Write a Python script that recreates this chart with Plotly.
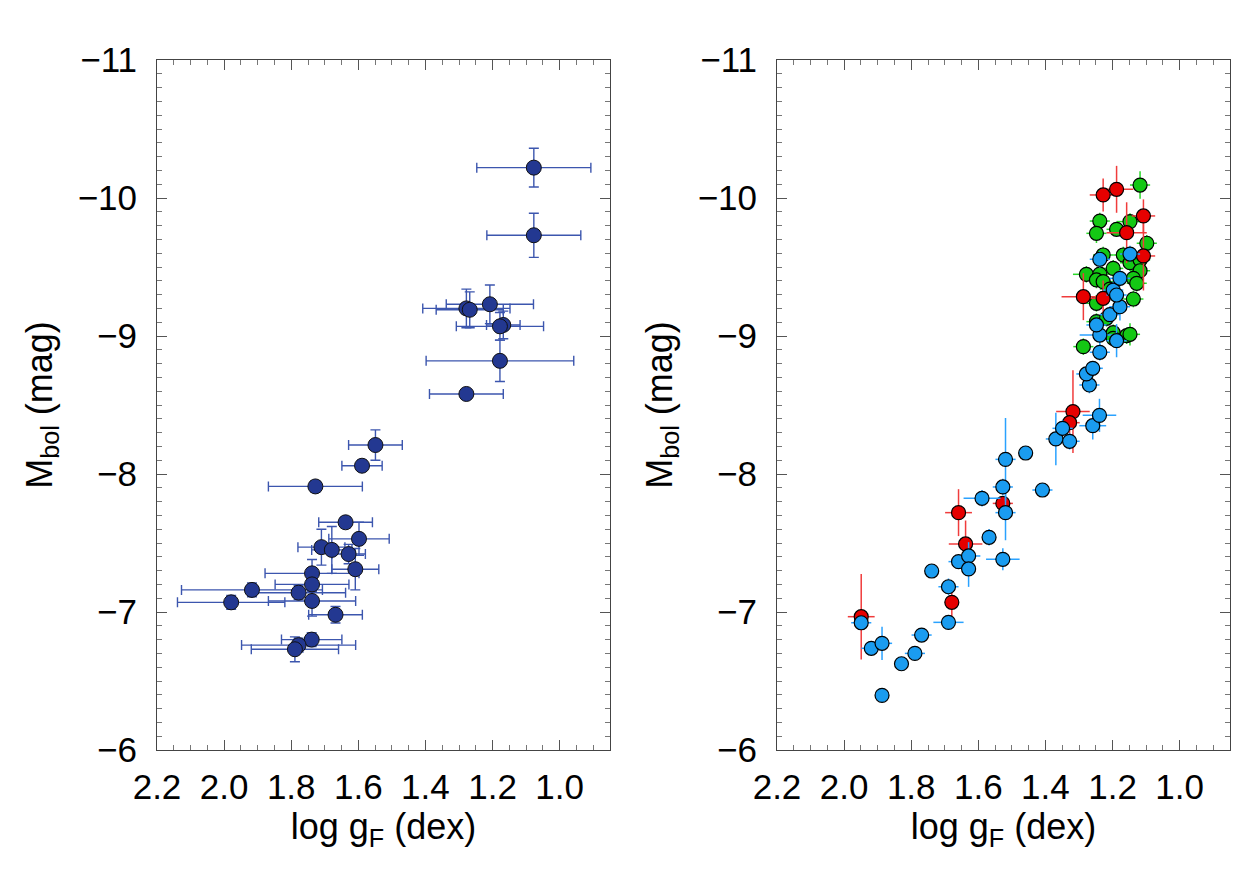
import plotly.graph_objects as go

# ---------------- Left panel data ----------------
left_logg = [1.077, 1.077, 1.278, 1.268, 1.208, 1.168, 1.178, 1.178, 1.278,
             1.549, 1.589, 1.728, 1.638, 1.598, 1.710, 1.679, 1.629, 1.609,
             1.738, 1.738, 1.917, 1.778, 1.979, 1.738, 1.668, 1.739, 1.778, 1.789]
left_mbol = [-10.22, -9.73, -9.20, -9.19, -9.23, -9.08, -9.07, -8.82, -8.58,
             -8.21, -8.06, -7.91, -7.65, -7.53, -7.47, -7.45, -7.42, -7.31,
             -7.28, -7.20, -7.16, -7.14, -7.07, -7.08, -6.98, -6.80, -6.76, -6.73]
left_logg_err = [0.17, 0.14, 0.13, 0.10, 0.13, 0.05, 0.13, 0.22, 0.11,
                 0.08, 0.06, 0.14, 0.08, 0.09, 0.07, 0.06, 0.05, 0.07,
                 0.14, 0.11, 0.21, 0.14, 0.16, 0.13, 0.08, 0.09, 0.17, 0.13]
left_mbol_err = [0.14, 0.16, 0.14, 0.13, 0.14, 0.10, 0.10, 0.15, 0.03,
                 0.11, 0.04, 0.04, 0.04, 0.12, 0.13, 0.17, 0.07, 0.15,
                 0.10, 0.05, 0.05, 0.05, 0.05, 0.11, 0.06, 0.05, 0.05, 0.09]

# ---------------- Right panel data ----------------
green_logg = [1.118, 1.238, 1.248, 1.188, 1.148, 1.098, 1.228, 1.168, 1.148, 1.118,
              1.198, 1.118, 1.278, 1.238, 1.248, 1.228, 1.138, 1.128, 1.138, 1.248,
              1.248, 1.218, 1.198, 1.198, 1.158, 1.148, 1.287, 1.208]
green_mbol = [-10.094, -9.833, -9.744, -9.773, -9.829, -9.672, -9.587, -9.587, -9.531, -9.551,
              -9.490, -9.473, -9.447, -9.449, -9.406, -9.394, -9.418, -9.382, -9.268, -9.237,
              -9.104, -9.128, -9.024, -8.983, -9.002, -9.012, -8.923, -9.340]
green_logg_err = [0.03, 0.03, 0.03, 0.03, 0.04, 0.03, 0.03, 0.03, 0.03, 0.03,
                  0.03, 0.03, 0.04, 0.03, 0.03, 0.03, 0.03, 0.03, 0.03, 0.03,
                  0.03, 0.03, 0.03, 0.03, 0.03, 0.03, 0.03, 0.03]
green_mbol_err = [0.10, 0.06, 0.07, 0.05, 0.06, 0.06, 0.06, 0.06, 0.06, 0.06,
                  0.06, 0.06, 0.06, 0.06, 0.06, 0.06, 0.06, 0.06, 0.06, 0.06,
                  0.06, 0.06, 0.06, 0.06, 0.06, 0.08, 0.06, 0.06]

red_logg = [1.228, 1.188, 1.108, 1.158, 1.108, 1.287, 1.228, 1.318, 1.328,
            1.659, 1.638, 1.527, 1.679, 1.949]
red_mbol = [-10.022, -10.063, -9.870, -9.749, -9.580, -9.285, -9.273, -8.452, -8.372,
            -7.720, -7.493, -7.787, -7.070, -6.966]
red_logg_err = [0.04, 0.05, 0.035, 0.06, 0.035, 0.065, 0.04, 0.05, 0.03,
                0.04, 0.05, 0.03, 0.02, 0.04]
red_mbol_err = [0.12, 0.17, 0.12, 0.22, 0.25, 0.17, 0.13, 0.30, 0.10,
                0.17, 0.17, 0.04, 0.10, 0.31]

blue_logg = [1.949, 1.919, 1.887, 1.887, 1.829, 1.789, 1.769, 1.739, 1.689, 1.689,
             1.659, 1.629, 1.629, 1.568, 1.589, 1.527, 1.519, 1.519, 1.527, 1.459,
             1.409, 1.369, 1.349, 1.328, 1.259, 1.239, 1.269, 1.278, 1.259, 1.238,
             1.238, 1.248, 1.188, 1.208, 1.178, 1.198, 1.188, 1.178, 1.238, 1.148]
blue_mbol = [-6.922, -6.737, -6.773, -6.396, -6.625, -6.700, -6.833, -7.297, -7.183, -6.925,
             -7.365, -7.406, -7.312, -7.541, -7.824, -7.906, -7.720, -8.106, -7.382, -8.152,
             -7.884, -8.254, -8.331, -8.237, -8.350, -8.425, -8.645, -8.725, -8.766, -8.882,
             -9.007, -9.080, -8.966, -9.155, -9.212, -9.333, -9.297, -9.418, -9.556, -9.594]
blue_logg_err = [0.03, 0.03, 0.03, 0.02, 0.02, 0.03, 0.03, 0.02, 0.03, 0.045,
                 0.03, 0.035, 0.02, 0.02, 0.055, 0.03, 0.03, 0.03, 0.05, 0.02,
                 0.03, 0.03, 0.03, 0.03, 0.04, 0.05, 0.03, 0.03, 0.03, 0.03,
                 0.06, 0.03, 0.03, 0.03, 0.03, 0.03, 0.03, 0.03, 0.03, 0.03]
blue_mbol_err = [0.05, 0.04, 0.12, 0.05, 0.03, 0.05, 0.05, 0.05, 0.06, 0.05,
                 0.05, 0.10, 0.13, 0.06, 0.06, 0.06, 0.20, 0.30, 0.08, 0.04,
                 0.05, 0.19, 0.06, 0.06, 0.10, 0.12, 0.06, 0.05, 0.05, 0.06,
                 0.08, 0.06, 0.12, 0.06, 0.10, 0.06, 0.06, 0.06, 0.06, 0.06]

x_ticks = [2.2, 2.0, 1.8, 1.6, 1.4, 1.2, 1.0]
y_ticks = [-11, -10, -9, -8, -7, -6]

FONT = "Liberation Sans, Arial, Helvetica, sans-serif"

fig = go.Figure()

# Left panel
fig.add_trace(go.Scatter(
    x=left_logg, y=left_mbol, mode="markers", xaxis="x", yaxis="y",
    marker=dict(size=15, color="#233891", line=dict(color="#111111", width=1)),
    error_x=dict(type="data", array=left_logg_err, color="#3c56ae", thickness=1.4, width=5),
    error_y=dict(type="data", array=left_mbol_err, color="#3c56ae", thickness=1.4, width=5),
    showlegend=False))

# Right panel
def add_group(xs, ys, xe, ye, fill, ecol):
    fig.add_trace(go.Scatter(
        x=xs, y=ys, mode="markers", xaxis="x2", yaxis="y2",
        marker=dict(size=14, color=fill, line=dict(color="#000000", width=1.2)),
        error_x=dict(type="data", array=xe, color=ecol, thickness=1.5, width=0),
        error_y=dict(type="data", array=ye, color=ecol, thickness=1.5, width=0),
        showlegend=False))

add_group(green_logg, green_mbol, green_logg_err, green_mbol_err, "#14c814", "#2ad82a")
add_group(red_logg, red_mbol, red_logg_err, red_mbol_err, "#e60000", "#f03c3c")
add_group(blue_logg, blue_mbol, blue_logg_err, blue_mbol_err, "#1a9cf0", "#2aa2ff")

W, H = 1240, 875
ytop, ybot = 60, 750
ydom = [1 - ybot / H, 1 - ytop / H]
xdom1 = [157 / W, 610 / W]
xdom2 = [777 / W, 1230 / W]

def xaxis_cfg(domain, anchor):
    return dict(
        domain=domain, anchor=anchor, range=[2.2, 0.85],
        tickmode="array", tickvals=x_ticks, ticktext=[f"{v:.1f}" for v in x_ticks],
        ticks="inside", ticklen=10, tickwidth=1, tickcolor="#555555",
        minor=dict(dtick=0.05, tick0=1.0, ticks="inside", ticklen=5, tickcolor="#777777", tickwidth=1),
        showline=True, linecolor="#444444", linewidth=1, mirror="allticks",
        showgrid=False, zeroline=False,
        tickfont=dict(family=FONT, size=35, color="black"),
        ticklabelstandoff=6,
        title=dict(text="log g<sub>F</sub> (dex)", font=dict(family=FONT, size=36, color="black"), standoff=2),
    )

def yaxis_cfg(anchor):
    return dict(
        domain=ydom, anchor=anchor, range=[-6, -11],
        tickmode="array", tickvals=y_ticks, ticktext=["\u2212" + str(abs(v)) for v in y_ticks],
        ticks="inside", ticklen=10, tickwidth=1, tickcolor="#555555",
        minor=dict(dtick=0.1, tick0=-11, ticks="inside", ticklen=5, tickcolor="#777777", tickwidth=1),
        showline=True, linecolor="#444444", linewidth=1, mirror="allticks",
        showgrid=False, zeroline=False,
        tickfont=dict(family=FONT, size=35, color="black"),
        ticklabelstandoff=12,
        title=dict(text="M<sub>bol</sub> (mag)", font=dict(family=FONT, size=36, color="black"), standoff=14),
    )

fig.update_layout(
    width=W, height=H,
    margin=dict(l=0, r=0, t=0, b=0, autoexpand=False),
    paper_bgcolor="white", plot_bgcolor="white",
    font=dict(family=FONT, color="black"),
    xaxis=xaxis_cfg(xdom1, "y"),
    yaxis=yaxis_cfg("x"),
    xaxis2=xaxis_cfg(xdom2, "y2"),
    yaxis2=yaxis_cfg("x2"),
)

fig.write_html("out.html")
